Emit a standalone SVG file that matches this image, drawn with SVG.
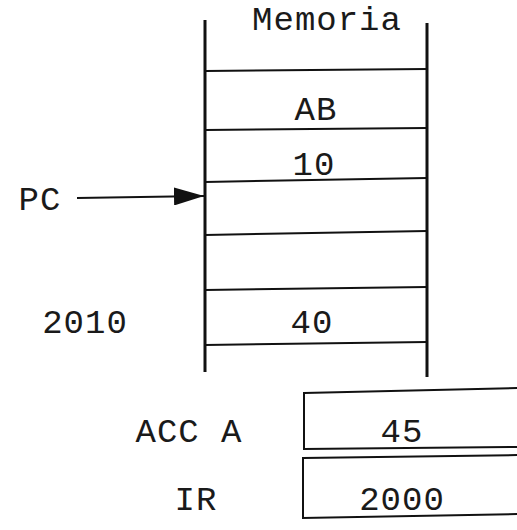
<svg xmlns="http://www.w3.org/2000/svg" width="517" height="530" viewBox="0 0 517 530">
  <style>
    .t { font-family: "Liberation Mono", "Courier New", monospace; font-size: 34px; letter-spacing: 1px; fill: #1a1a1a; text-anchor: middle; }
    .v { stroke: #111; stroke-width: 3; fill: none; }
    .h { stroke: #111; stroke-width: 2; fill: none; }
    .box { stroke: #111; stroke-width: 2; fill: #fff; }
  </style>
  <defs>
    <marker id="head" viewBox="0 0 30 18" refX="30" refY="9" markerWidth="30" markerHeight="18" markerUnits="userSpaceOnUse" orient="auto">
      <path d="M0,0 L30,9 L0,18 Z" fill="#111"/>
    </marker>
  </defs>
  <rect width="517" height="530" fill="#fff"/>

  <!-- memory column -->
  <g id="memoria">
    <line class="v" x1="205" y1="20" x2="205" y2="372"/>
    <line class="v" x1="427" y1="23" x2="427" y2="377"/>
    <line class="h" x1="205" y1="71" x2="427" y2="69"/>
    <line class="h" x1="205" y1="130" x2="427" y2="128"/>
    <line class="h" x1="205" y1="182" x2="427" y2="178"/>
    <line class="h" x1="205" y1="235" x2="427" y2="231"/>
    <line class="h" x1="205" y1="290" x2="427" y2="287"/>
    <line class="h" x1="205" y1="345" x2="427" y2="342"/>
    <text class="t" x="327" y="30">Memoria</text>
    <text class="t" x="316" y="120">AB</text>
    <text class="t" x="314" y="175">10</text>
    <text class="t" x="312" y="333">40</text>
  </g>

  <g id="pc">
    <text class="t" x="40" y="210">PC</text>
  </g>

  <g id="addr">
    <text class="t" x="85" y="333">2010</text>
  </g>

  <!-- registers -->
  <g id="acc">
    <path class="box" d="M304,393 L520,388 L520,447 L304,449 Z"/>
    <text class="t" x="189" y="442">ACC A</text>
    <text class="t" x="402" y="442">45</text>
  </g>
  <g id="ir">
    <path class="box" d="M303,458 L520,455 L520,514 L303,518 Z"/>
    <text class="t" x="196" y="510">IR</text>
    <text class="t" x="402" y="510">2000</text>
  </g>

  <g id="connectors">
    <line stroke="#111" stroke-width="2" x1="77" y1="198" x2="204" y2="196" marker-end="url(#head)"/>
  </g>
</svg>
